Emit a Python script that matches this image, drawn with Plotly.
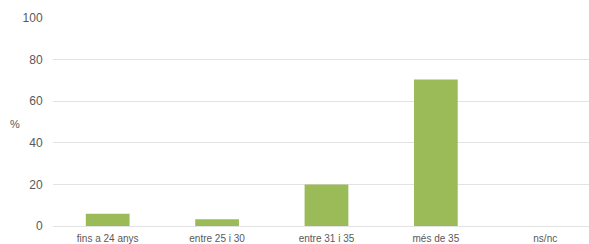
import plotly.graph_objects as go

categories = ["fins a 24 anys", "entre 25 i 30", "entre 31 i 35", "més de 35", "ns/nc"]
values = [5.9, 3.3, 19.9, 70.4, 0]
y_ticks = [0, 20, 40, 60, 80, 100]

fig = go.Figure()
fig.add_trace(go.Bar(
    x=list(range(len(categories))),
    y=values,
    width=0.4,
    marker=dict(color="#9bbb59", line=dict(width=0)),
    hoverinfo="skip",
))

fig.update_layout(
    width=589, height=244,
    margin=dict(l=53, r=0, t=18, b=18, autoexpand=False),
    paper_bgcolor="white", plot_bgcolor="white",
    showlegend=False,
    font=dict(family="Liberation Sans, Arial, sans-serif", color="#595959"),
    xaxis=dict(
        tickmode="array",
        tickvals=list(range(len(categories))),
        ticktext=categories,
        range=[-0.5, 4.4],
        showgrid=False, zeroline=False, showline=False,
        tickfont=dict(size=10, color="#595959"),
        ticks="outside", ticklen=3, tickcolor="rgba(0,0,0,0)",
        automargin=False,
    ),
    yaxis=dict(
        range=[0, 100],
        tickvals=y_ticks,
        showgrid=True, gridcolor="#e3e3e3", gridwidth=1,
        zeroline=True, zerolinecolor="#e3e3e3", zerolinewidth=1,
        showline=False,
        tickfont=dict(size=12, color="#595959"),
        ticks="outside", ticklen=7, tickcolor="rgba(0,0,0,0)",
        automargin=False,
    ),
    annotations=[dict(
        text="%", x=(15 - 53) / (589 - 53), y=(244 - 18 - 124) / (244 - 36),
        xref="paper", yref="paper", xanchor="center", yanchor="middle",
        showarrow=False, font=dict(size=11, color="#595959"),
    )],
)

fig.write_html(
    "out.html",
    config={"displayModeBar": False, "staticPlot": True},
    post_script="document.body.style.margin='0';document.body.style.overflow='hidden';",
)
